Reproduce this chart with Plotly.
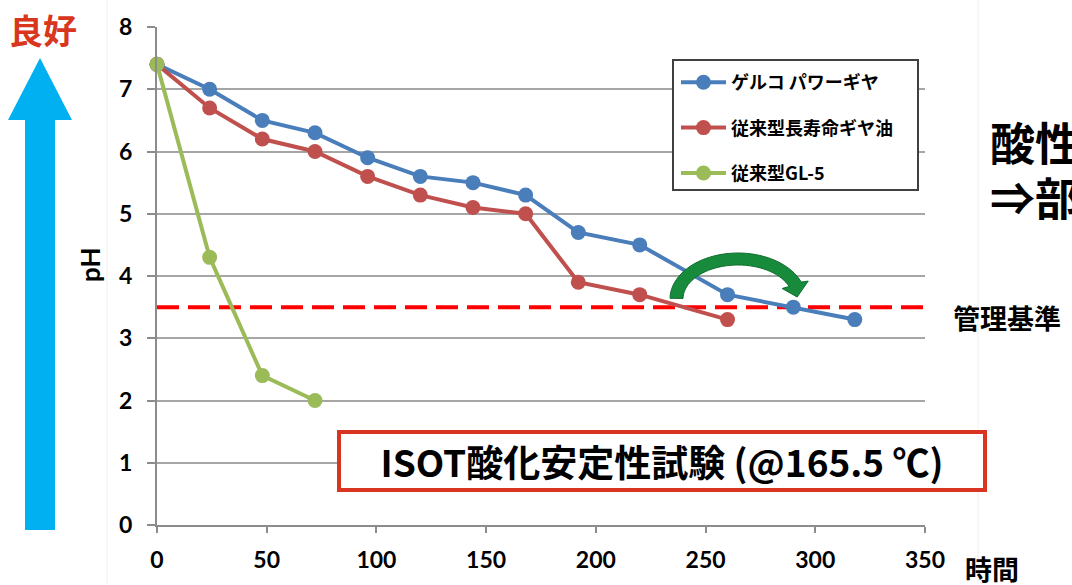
import numpy as np
import plotly.graph_objects as go

# ---- data ----
hours_blue = [0, 24, 48, 72, 96, 120, 144, 168, 192, 220, 260, 290, 318]
ph_blue = [7.4, 7.0, 6.5, 6.3, 5.9, 5.6, 5.5, 5.3, 4.7, 4.5, 3.7, 3.5, 3.3]
hours_red = [0, 24, 48, 72, 96, 120, 144, 168, 192, 220, 260]
ph_red = [7.4, 6.7, 6.2, 6.0, 5.6, 5.3, 5.1, 5.0, 3.9, 3.7, 3.3]
hours_green = [0, 24, 48, 72]
ph_green = [7.4, 4.3, 2.4, 2.0]
names = ["ゲルコ パワーギヤ", "従来型長寿命ギヤ油", "従来型GL-5"]
colors = ["#4A7EBB", "#C0504D", "#9BBB59"]
threshold = 3.5
x_ticks = [0, 50, 100, 150, 200, 250, 300, 350]
y_ticks = [0, 1, 2, 3, 4, 5, 6, 7, 8]

W, H = 1072, 585
L, R, T, B = 157, 925, 27, 525  # plot area in px


def px(x):
    return (x - L) / (R - L)


def py(y):
    return (B - y) / (B - T)


JP = "Noto Sans CJK JP"
NUM = "Lato"

fig = go.Figure()
for xs, ys, nm, c in zip([hours_blue, hours_red, hours_green],
                         [ph_blue, ph_red, ph_green], names, colors):
    fig.add_trace(go.Scatter(
        x=xs, y=ys, name=nm, mode="lines+markers", legendgroup=nm,
        line=dict(color=c, width=4),
        marker=dict(color=c, size=15),
        cliponaxis=False,
    ))

shapes = []
# management threshold dashed line
shapes.append(dict(type="line", xref="paper", yref="y", x0=0, x1=1,
                   y0=threshold, y1=threshold,
                   line=dict(color="#FF0000", width=4, dash="22px,9px"),
                   layer="below"))

# faint slide lines
for xv in [107, 978]:
    shapes.append(dict(type="line", xref="paper", yref="paper",
                       x0=px(xv), x1=px(xv), y0=py(0), y1=py(H),
                       line=dict(color="#F0F0F0", width=1), layer="below"))

# legend frame
shapes.append(dict(type="rect", xref="paper", yref="paper",
                   x0=px(673), x1=px(918), y0=py(60), y1=py(190),
                   fillcolor="#FFFFFF", line=dict(color="#404040", width=2),
                   layer="above"))

# cyan arrow (left)
pts = [(25, 530), (55, 530), (55, 120), (72, 120), (40, 58), (8, 120), (25, 120)]
path = "M " + " L ".join(f"{px(a):.5f},{py(b):.5f}" for a, b in pts) + " Z"
shapes.append(dict(type="path", xref="paper", yref="paper", path=path,
                   fillcolor="#00B0F0", line=dict(width=0)))

# green curved arrow
cx, cy = 738, 299
ang = np.linspace(np.pi * 0.995, np.pi * 0.12, 40)
outer = [(cx + 68 * np.cos(a), cy - 46 * np.sin(a)) for a in ang]
inner = [(cx + 55 * np.cos(a), cy - 34 * np.sin(a)) for a in ang[::-1]]
ex_o = outer[-1]
ex_i = inner[0]
head = [(ex_o[0] + 7, ex_o[1] - 1), ((ex_o[0] + ex_i[0]) / 2 + 2, 297),
        (ex_i[0] - 7, ex_i[1] + 2)]
poly = outer + head + inner
path = "M " + " L ".join(f"{px(a):.5f},{py(b):.5f}" for a, b in poly) + " Z"
shapes.append(dict(type="path", xref="paper", yref="paper", path=path,
                   fillcolor="#178A3C", line=dict(color="#0F6E2E", width=1),
                   layer="above"))


def note(text, x, y, size, xa="center", ya="middle", family=JP, color="#000", **kw):
    return dict(text=text, x=px(x), y=py(y), xref="paper", yref="paper",
                xanchor=xa, yanchor=ya, showarrow=False,
                font=dict(family=family, size=size, color=color), **kw)


annotations = [
    note("<b>良好</b>", 43, 29, 34, color="#D9361E"),
    note("<b>酸性</b>", 988, 141, 45, xa="left"),
    note("<b>⇒部</b>", 988, 196, 45, xa="left"),
    note("<b>管理基準</b>", 951, 318, 27, xa="left"),
    note("<b>時間</b>", 963, 568, 27, xa="left"),
    note("<b>pH</b>", 90, 265, 26, family=NUM, textangle=-90),
    note("<b>ISOT酸化安定性試験 (@165.5 ℃)</b>", 662, 461, 37,
         width=642, height=54, bgcolor="#FFFFFF",
         bordercolor="#D9341F", borderwidth=4, borderpad=0),
]

fig.update_layout(
    width=W, height=H,
    margin=dict(l=L, r=W - R, t=T, b=H - B, pad=0),
    paper_bgcolor="#FFFFFF", plot_bgcolor="#FFFFFF",
    shapes=shapes, annotations=annotations,
    showlegend=True,
    legend=dict(x=px(676), y=py(64), xanchor="left", yanchor="top",
                bgcolor="rgba(0,0,0,0)", borderwidth=0,
                font=dict(family=JP, size=18, color="#000", weight="bold"),
                tracegroupgap=19, itemwidth=45),
    xaxis=dict(range=[0, 350], tickvals=x_ticks, showgrid=False, zeroline=False,
               showline=True, linecolor="#8C8C8C", linewidth=2,
               ticks="outside", ticklen=6, tickcolor="#8C8C8C", tickwidth=2,
               ticklabelstandoff=7,
               tickfont=dict(family=NUM, size=23, color="#000", weight="bold")),
    yaxis=dict(range=[0, 8], tickvals=y_ticks, showgrid=True, gridcolor="#A6A6A6",
               gridwidth=2, zeroline=False, showline=True, linecolor="#8C8C8C",
               linewidth=2, ticks="outside", ticklen=8, tickcolor="#8C8C8C",
               tickwidth=2, ticklabelstandoff=10,
               tickfont=dict(family=NUM, size=23, color="#000", weight="bold")),
)

fig.write_html("out.html", config={"displayModeBar": False},
               post_script="document.body.style.margin='0px';")
